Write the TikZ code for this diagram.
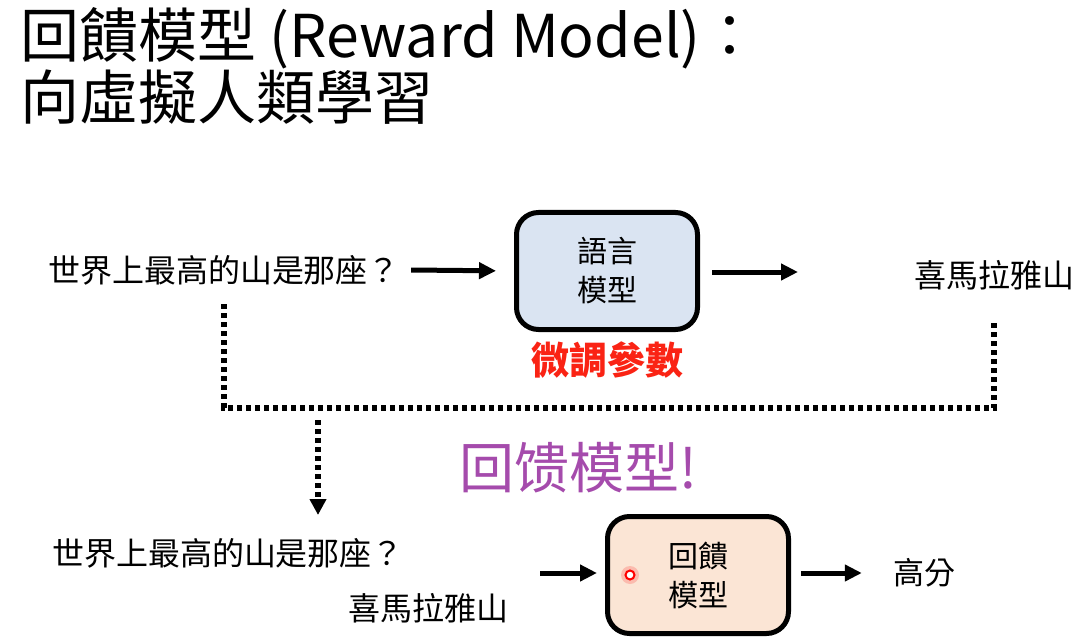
\documentclass[tikz,border=0pt]{standalone}
\usepackage{fontspec}
\setmainfont{Noto Sans CJK TC}
\newfontfamily\scfont{Noto Sans CJK SC}
\usepackage{tikz}
\usetikzlibrary{arrows.meta,positioning}
\definecolor{boxblue}{RGB}{218,228,242}
\definecolor{boxpeach}{RGB}{251,229,213}
\definecolor{tunered}{RGB}{250,35,20}
\definecolor{hintpurple}{RGB}{165,75,172}
\tikzset{
  txt/.style={inner sep=0pt,font=\fontsize{32}{38}\selectfont},
  headline/.style={inner sep=0pt,anchor=base west,font=\fontsize{59}{62}\selectfont},
  model/.style={draw=black,line width=5pt,rounded corners=22pt,minimum width=181pt,minimum height=117pt,
    align=center,font=\fontsize{30}{39}\selectfont},
  arr/.style={-{Triangle[length=17pt,width=16pt]},line width=5pt},
  dots/.style={line width=6pt,dash pattern=on 5pt off 4pt},
  laser/.style={circle,draw=red,fill=white,line width=2pt,minimum size=9pt,inner sep=0pt}
}
\begin{document}
\begin{tikzpicture}[x=1pt,y=-1pt]
  \useasboundingbox[fill=white] (0,0) rectangle (1084,639);
  % title
  \node[headline] (title1) at (20,58) {回饋模型 (Reward Model)：};
  \node[headline] (title2) at (20,120) {向虛擬人類學習};
  % language model row
  \node[txt] (q1) at (224,270) {世界上最高的山是那座？};
  \node[model,fill=boxblue] (lm) at (607,271) {語言\\模型};
  \node[txt] (ans) at (994,275) {喜馬拉雅山};
  \coordinate (lmout) at (798,272);
  \node[txt,text=tunered,font=\fontsize{38}{40}\selectfont\bfseries] (tune) at (607,360) {微調參數};
  \draw[arr,shorten >=18pt] (q1.east) ++(11,0) -- (lm.west);
  \draw[arr,shorten <=12pt] (lm.east |- lmout) -- (lmout);
  % collected pairs
  \coordinate (fold) at (ans.south |- 0,408);
  \coordinate (drop) at (318,408);
  \coordinate (dropend) at (318,515);
  \draw[dots,shorten <=19pt,shorten >=31pt] (q1.south) |- (fold) -- (ans.south);
  \draw[dots,shorten <=12pt,-{Triangle[length=16pt,width=16pt]}] (drop) -- (dropend);
  \node[txt,text=hintpurple,font=\scfont\fontsize{55}{58}\selectfont] (hint) at (578,468) {回馈模型!};
  % reward model row
  \node[txt] (q2) at (228,553) {世界上最高的山是那座？};
  \node[txt] (a2) at (428,608) {喜馬拉雅山};
  \node[model,fill=boxpeach] (rm) at (698,575) {回饋\\模型};
  \node[txt,font=\fontsize{31}{36}\selectfont] (score) at (924,573) {高分};
  \coordinate (rmin) at (540,573);
  \draw[arr,shorten >=8pt] (rmin) -- (rm.west |- rmin);
  \draw[arr,shorten <=10pt,shorten >=31pt] (rm.east |- score) -- (score.west);
  \fill[red,opacity=0.18] (630,575) circle (9pt);
  \node[laser] (dot) at (630,575) {};
\end{tikzpicture}
\end{document}
